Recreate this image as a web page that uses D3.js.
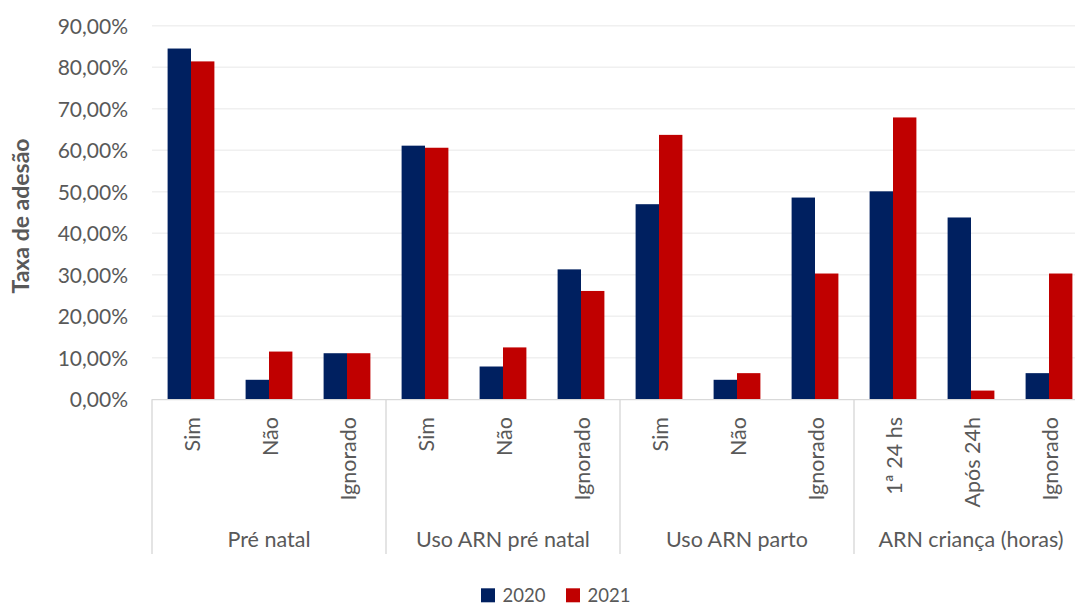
<!DOCTYPE html>
<html>
<head>
<meta charset="utf-8">
<script src="https://cdn.jsdelivr.net/npm/d3@7"></script>
<style>
  html, body { margin: 0; padding: 0; background: #fff; }
  svg { display: block; }
  text { font-family: Lato, "Open Sans", sans-serif; fill: #595959; }
</style>
</head>
<body>
<svg id="chart" width="1075" height="606"></svg>
<script>
const categories = ["Sim","Não","Ignorado","Sim","Não","Ignorado","Sim","Não","Ignorado","1ª 24 hs","Após 24h","Ignorado"];
const groups = ["Pré natal","Uso ARN pré natal","Uso ARN parto","ARN criança (horas)"];
const groupSize = [3,3,3,3];
const series = ["2020","2021"];
const values2020 = [84.5, 4.7, 11.1, 61.1, 7.9, 31.3, 47.0, 4.7, 48.6, 50.1, 43.8, 6.3];
const values2021 = [81.4, 11.5, 11.1, 60.6, 12.5, 26.1, 63.7, 6.3, 30.3, 67.9, 2.1, 30.3];
const yTicks = [0,10,20,30,40,50,60,70,80,90];
const colors = ["#002060", "#C00000"];
const yTitle = "Taxa de adesão";

const svg = d3.select("#chart");
const plotLeft = 152, plotRight = 1088, plotTop = 25.7, plotBottom = 399.3;

const x = d3.scaleBand().domain(d3.range(categories.length)).range([plotLeft, plotRight]).padding(0);
const x1 = d3.scaleBand().domain(series).range([x.bandwidth()*0.2, x.bandwidth()*0.8]).padding(0);
const y = d3.scaleLinear().domain([0, 90]).range([plotBottom, plotTop]);

// gridlines
svg.append("g").selectAll("line").data(yTicks.filter(d => d > 0)).join("line")
  .attr("x1", plotLeft).attr("x2", 1075)
  .attr("y1", d => y(d)).attr("y2", d => y(d))
  .attr("stroke", "#f0f0f0").attr("stroke-width", 1.4);

// y axis labels
const fmt = d => d3.format(".2f")(d).replace(".", ",") + "%";
const yAxis = d3.axisLeft(y).tickValues(yTicks).tickFormat(fmt).tickSize(0).tickPadding(0);
const gy = svg.append("g").attr("transform", `translate(128,0)`).call(yAxis);
gy.select(".domain").remove();
gy.selectAll("text").attr("font-size", 21).attr("fill", "#595959")
  .attr("font-family", "Lato, sans-serif").attr("dy", "0.36em");

// bars
const data = categories.map((c, i) => ({i, vals: [values2020[i], values2021[i]]}));
const gb = svg.append("g");
data.forEach(d => {
  d.vals.forEach((v, k) => {
    gb.append("rect")
      .attr("x", x(d.i) + x1(series[k]))
      .attr("width", x1.bandwidth())
      .attr("y", y(v))
      .attr("height", y(0) - y(v))
      .attr("fill", colors[k]);
  });
});

// baseline
svg.append("line").attr("x1", plotLeft).attr("x2", 1075).attr("y1", plotBottom + 0.3).attr("y2", plotBottom + 0.3)
  .attr("stroke", "#d9d9d9").attr("stroke-width", 1.4);

// category labels (rotated)
svg.append("g").selectAll("text").data(categories).join("text")
  .attr("transform", (d, i) => `translate(${x(i) + x.bandwidth()/2 + 1.5},417) rotate(-90)`)
  .attr("text-anchor", "end").attr("dy", "0.36em")
  .attr("font-size", 21.5)
  .text(d => d);

// group separators and labels
let start = 0;
const bounds = [];
groupSize.forEach(n => { bounds.push([start, start + n - 1]); start += n; });
const sepX = [plotLeft].concat(bounds.map(b => x(b[1]) + x.bandwidth()));
svg.append("g").selectAll("line").data(sepX).join("line")
  .attr("x1", d => d).attr("x2", d => d).attr("y1", plotBottom).attr("y2", 554)
  .attr("stroke", "#d9d9d9").attr("stroke-width", 1.4);
svg.append("g").selectAll("text").data(groups).join("text")
  .attr("x", (d, i) => (x(bounds[i][0]) + x(bounds[i][1]) + x.bandwidth()) / 2)
  .attr("y", 546.5)
  .attr("text-anchor", "middle")
  .attr("font-size", 21.5)
  .text(d => d);

// y title
svg.append("text")
  .attr("transform", "translate(21,216) rotate(-90)")
  .attr("text-anchor", "middle").attr("dy", "0.36em")
  .attr("font-size", 23).attr("font-weight", "bold")
  .text(yTitle);

// legend
const legX = [481, 566];
const lg = svg.append("g");
series.forEach((s, k) => {
  lg.append("rect").attr("x", legX[k]).attr("y", 588.3).attr("width", 14).attr("height", 14).attr("fill", colors[k]);
  lg.append("text").attr("x", legX[k] + 21.5).attr("y", 602.3).attr("font-size", 18.5).text(s);
});
</script>
</body>
</html>
